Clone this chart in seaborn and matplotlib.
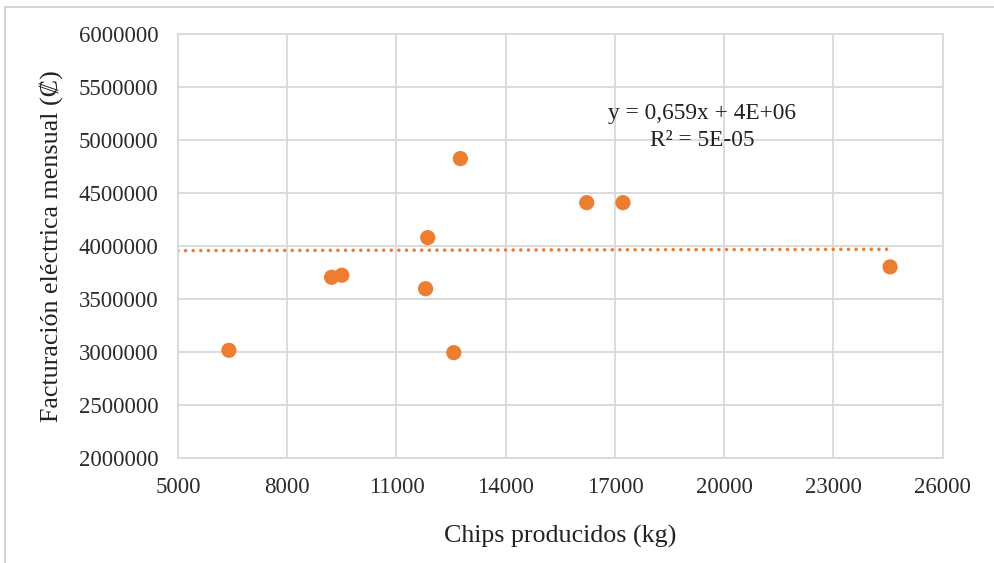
import numpy as np
import pandas as pd
import matplotlib
matplotlib.use("Agg")
import matplotlib.pyplot as plt
from matplotlib.patches import Rectangle
import seaborn as sns

# Monthly production and electricity billing
chips_kg = [6400, 9220, 9500, 11860, 11800, 12575, 12755, 16225, 17220, 24555]
facturacion = [3016000, 3705000, 3724000, 4079000, 3597000, 2994000,
               4825000, 4409000, 4409000, 3803000]

# Linear trendline coefficients
slope = 0.659
intercept = 3953000
r_squared = 5e-05

x_ticks = [5000, 8000, 11000, 14000, 17000, 20000, 23000, 26000]
y_ticks = [2000000, 2500000, 3000000, 3500000, 4000000, 4500000,
           5000000, 5500000, 6000000]

df = pd.DataFrame({"chips": chips_kg, "fact": facturacion})

sns.set_theme(style="whitegrid")
plt.rcParams["font.family"] = ["Liberation Serif", "DejaVu Serif"]

orange = "#ED7D31"
grid_gray = "#d9d9d9"
text_col = "#222222"

fig = plt.figure(figsize=(9.94, 5.63), dpi=100)
fig.patch.set_facecolor("white")
ax = fig.add_axes([0.179, 0.1865, 0.7694, 0.7531])

# Dotted trendline across the data range
tx = np.array([x_ticks[0], max(chips_kg)])
ax.plot(tx, slope * tx + intercept, color=orange, lw=2.6,
        linestyle=(0, (0.01, 2.1)), dash_capstyle="round", zorder=2)

sns.scatterplot(data=df, x="chips", y="fact", ax=ax, color=orange,
                s=120, edgecolor="none", zorder=3)

ax.set_xlim(x_ticks[0], x_ticks[-1])
ax.set_ylim(y_ticks[0], y_ticks[-1])
ax.set_xticks(x_ticks)
ax.set_yticks(y_ticks)
ax.set_xticklabels([str(v) for v in x_ticks])
ax.set_yticklabels([str(v) for v in y_ticks])
ax.tick_params(axis="both", labelsize=16.5, colors="#2b2b2b", length=0)
ax.tick_params(axis="y", pad=14)
ax.tick_params(axis="x", pad=14)
ax.grid(True, color=grid_gray, lw=1.3)
for sp in ax.spines.values():
    sp.set_color(grid_gray)
    sp.set_linewidth(1.3)

ax.set_xlabel("Chips producidos (kg)", fontsize=18.7, color=text_col, labelpad=19)
ax.set_ylabel("Facturación eléctrica mensual (₡)", fontsize=18.7,
              color=text_col, labelpad=11)

eq = f"y = {slope:.3f}".replace(".", ",") + f"x + {intercept:.0E}"
eq = eq.replace("E+6", "E+06")
r2 = "R² = " + f"{r_squared:.0E}"
ax.text(0.6854, 0.781, f"{eq}\n{r2}", transform=ax.transAxes, ha="center",
        va="center", fontsize=16.8, color=text_col, linespacing=1.4)

# Chart frame
fig.add_artist(Rectangle((5 / 994, -0.05), 1.2, 1 - 7 / 563 + 0.05,
                         transform=fig.transFigure, fill=False,
                         edgecolor="#d0d0d0", lw=1.3))

fig.savefig("out.png", dpi=100, facecolor="white")
